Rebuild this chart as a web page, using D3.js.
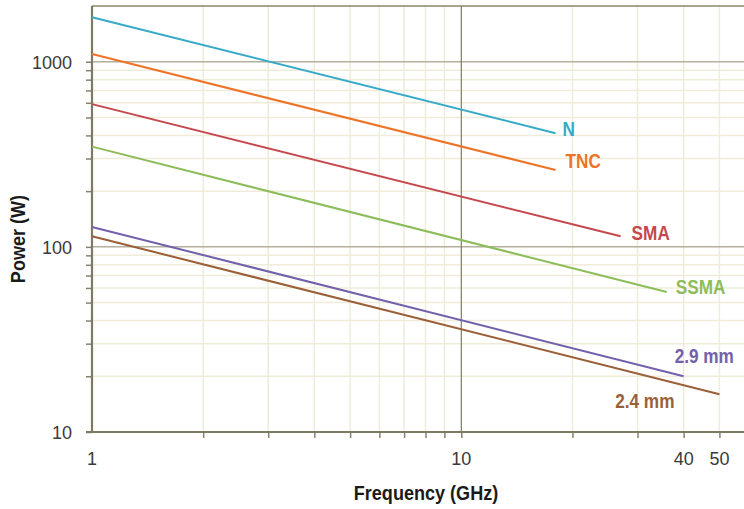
<!DOCTYPE html>
<html>
<head>
<meta charset="utf-8">
<script src="https://cdn.jsdelivr.net/npm/d3@7"></script>
<style>
  body { margin: 0; background: #fff; }
  svg { display: block; }
  .tick-label { font-family: "Liberation Sans", Arial, sans-serif; font-size: 18px; fill: #3a3a3a; }
  .title { font-family: "Liberation Sans", Arial, sans-serif; font-weight: bold; font-size: 21px; fill: #1a1a1a; }
  .series-label { font-family: "Liberation Sans", Arial, sans-serif; font-weight: bold; font-size: 20px; }
</style>
</head>
<body>
<div id="chart"></div>
<script>
// connector types, power handling at 1 GHz and at the top frequency
var series     = ["N", "TNC", "SMA", "SSMA", "2.9 mm", "2.4 mm"];
var startFreq  = [1, 1, 1, 1, 1, 1];
var startPower = [1740, 1100, 590, 348, 128, 114];
var endFreq    = [18, 18, 27, 36, 40, 50];
var endPower   = [411, 260, 114, 57, 20, 16];

var xTickLabels = [1, 10, 40, 50];
var yTickLabels = [10, 100, 1000];

var colors = ["#37aac9", "#ee7326", "#c4484d", "#8dbd5a", "#7360aa", "#9a5f37"];
// label position relative to line end (px)
var labelDx = [7, 10, 11, 9, -9, -45];
var labelDy = [3, -2, 4, 2, -13, 14];
var labelAnchor = ["start", "start", "start", "start", "start", "end"];

var W = 744, H = 509;
var mLeft = 92, mTop = 6, mBottom = 432, mRight = W;
var squeeze = 0.86; // condensed look for the bold labels

var x = d3.scaleLog().domain([1, 10]).range([mLeft, 461.3]);
var y = d3.scaleLog().domain([10, 2000]).range([mBottom, mTop]);

var svg = d3.select("#chart").append("svg")
  .attr("width", W).attr("height", H);

// minor grid
var xMinor = [2,3,4,5,6,7,8,9,20,30,40,50];
var yMinor = [20,30,40,50,60,70,80,90,200,300,400,500,600,700,800,900];

svg.append("g").selectAll("line").data(yMinor).enter().append("line")
  .attr("x1", mLeft).attr("x2", mRight)
  .attr("y1", function(d){ return y(d); }).attr("y2", function(d){ return y(d); })
  .attr("stroke", "#efecd9").attr("stroke-width", 1.5);

svg.append("g").selectAll("line").data(xMinor).enter().append("line")
  .attr("x1", function(d){ return x(d); }).attr("x2", function(d){ return x(d); })
  .attr("y1", mTop).attr("y2", mBottom)
  .attr("stroke", "#efecd9").attr("stroke-width", 1.5);

// major grid
svg.append("g").selectAll("line").data([100, 1000]).enter().append("line")
  .attr("x1", mLeft).attr("x2", mRight)
  .attr("y1", function(d){ return y(d); }).attr("y2", function(d){ return y(d); })
  .attr("stroke", "#b4b09b").attr("stroke-width", 1.5);

svg.append("line")
  .attr("x1", x(10)).attr("x2", x(10)).attr("y1", mTop).attr("y2", mBottom)
  .attr("stroke", "#7f7b62").attr("stroke-width", 1.2);

// top border
svg.append("line").attr("x1", mLeft).attr("x2", mRight).attr("y1", mTop).attr("y2", mTop)
  .attr("stroke", "#8a8766").attr("stroke-width", 1.5);

// axes
var yAxis = d3.axisLeft(y)
  .tickValues(yMinor.concat(yTickLabels))
  .tickSize(6).tickFormat("");
var gy = svg.append("g").attr("transform", "translate(" + mLeft + ",0)").call(yAxis);
gy.select(".domain").remove();
gy.selectAll(".tick line").attr("stroke", "#85836f").attr("stroke-width", 1.5);

var xAxis = d3.axisBottom(x)
  .tickValues(xMinor.concat([10]))
  .tickSize(6).tickFormat("");
var gx = svg.append("g").attr("transform", "translate(0," + mBottom + ")").call(xAxis);
gx.select(".domain").remove();
gx.selectAll(".tick line").attr("stroke", "#85836f").attr("stroke-width", 1.5);

svg.append("line").attr("x1", mLeft).attr("x2", mLeft).attr("y1", mTop).attr("y2", mBottom + 1)
  .attr("stroke", "#7d7a64").attr("stroke-width", 2.2);
svg.append("line").attr("x1", mLeft - 6).attr("x2", mRight).attr("y1", mBottom).attr("y2", mBottom)
  .attr("stroke", "#7d7a64").attr("stroke-width", 2.2);

// tick labels
svg.append("g").selectAll("text").data(yTickLabels).enter().append("text")
  .attr("class", "tick-label")
  .attr("x", 72).attr("y", function(d){ return y(d) + 7; })
  .attr("text-anchor", "end")
  .text(function(d){ return d; });

svg.append("g").selectAll("text").data(xTickLabels).enter().append("text")
  .attr("class", "tick-label")
  .attr("x", function(d){ return x(d); }).attr("y", 465)
  .attr("text-anchor", "middle")
  .text(function(d){ return d; });

// series lines
var idx = d3.range(series.length);
svg.append("g").selectAll("line").data(idx).enter().append("line")
  .attr("x1", function(i){ return x(startFreq[i]); })
  .attr("y1", function(i){ return y(startPower[i]); })
  .attr("x2", function(i){ return x(endFreq[i]); })
  .attr("y2", function(i){ return y(endPower[i]); })
  .attr("stroke", function(i){ return colors[i]; })
  .attr("stroke-width", 2);

svg.append("g").selectAll("text").data(idx).enter().append("text")
  .attr("class", "series-label")
  .attr("transform", function(i){
    return "translate(" + (x(endFreq[i]) + labelDx[i]) + "," + (y(endPower[i]) + labelDy[i]) + ") scale(" + squeeze + ",1)";
  })
  .attr("text-anchor", function(i){ return labelAnchor[i]; })
  .attr("fill", function(i){ return colors[i]; })
  .text(function(i){ return series[i]; });

// axis titles
svg.append("text").attr("class", "title")
  .attr("transform", "translate(426,500) scale(" + squeeze + ",1)")
  .attr("text-anchor", "middle")
  .text("Frequency (GHz)");

svg.append("text").attr("class", "title")
  .attr("transform", "translate(25,239) rotate(-90) scale(" + squeeze + ",1)")
  .attr("text-anchor", "middle")
  .text("Power (W)");
</script>
</body>
</html>
